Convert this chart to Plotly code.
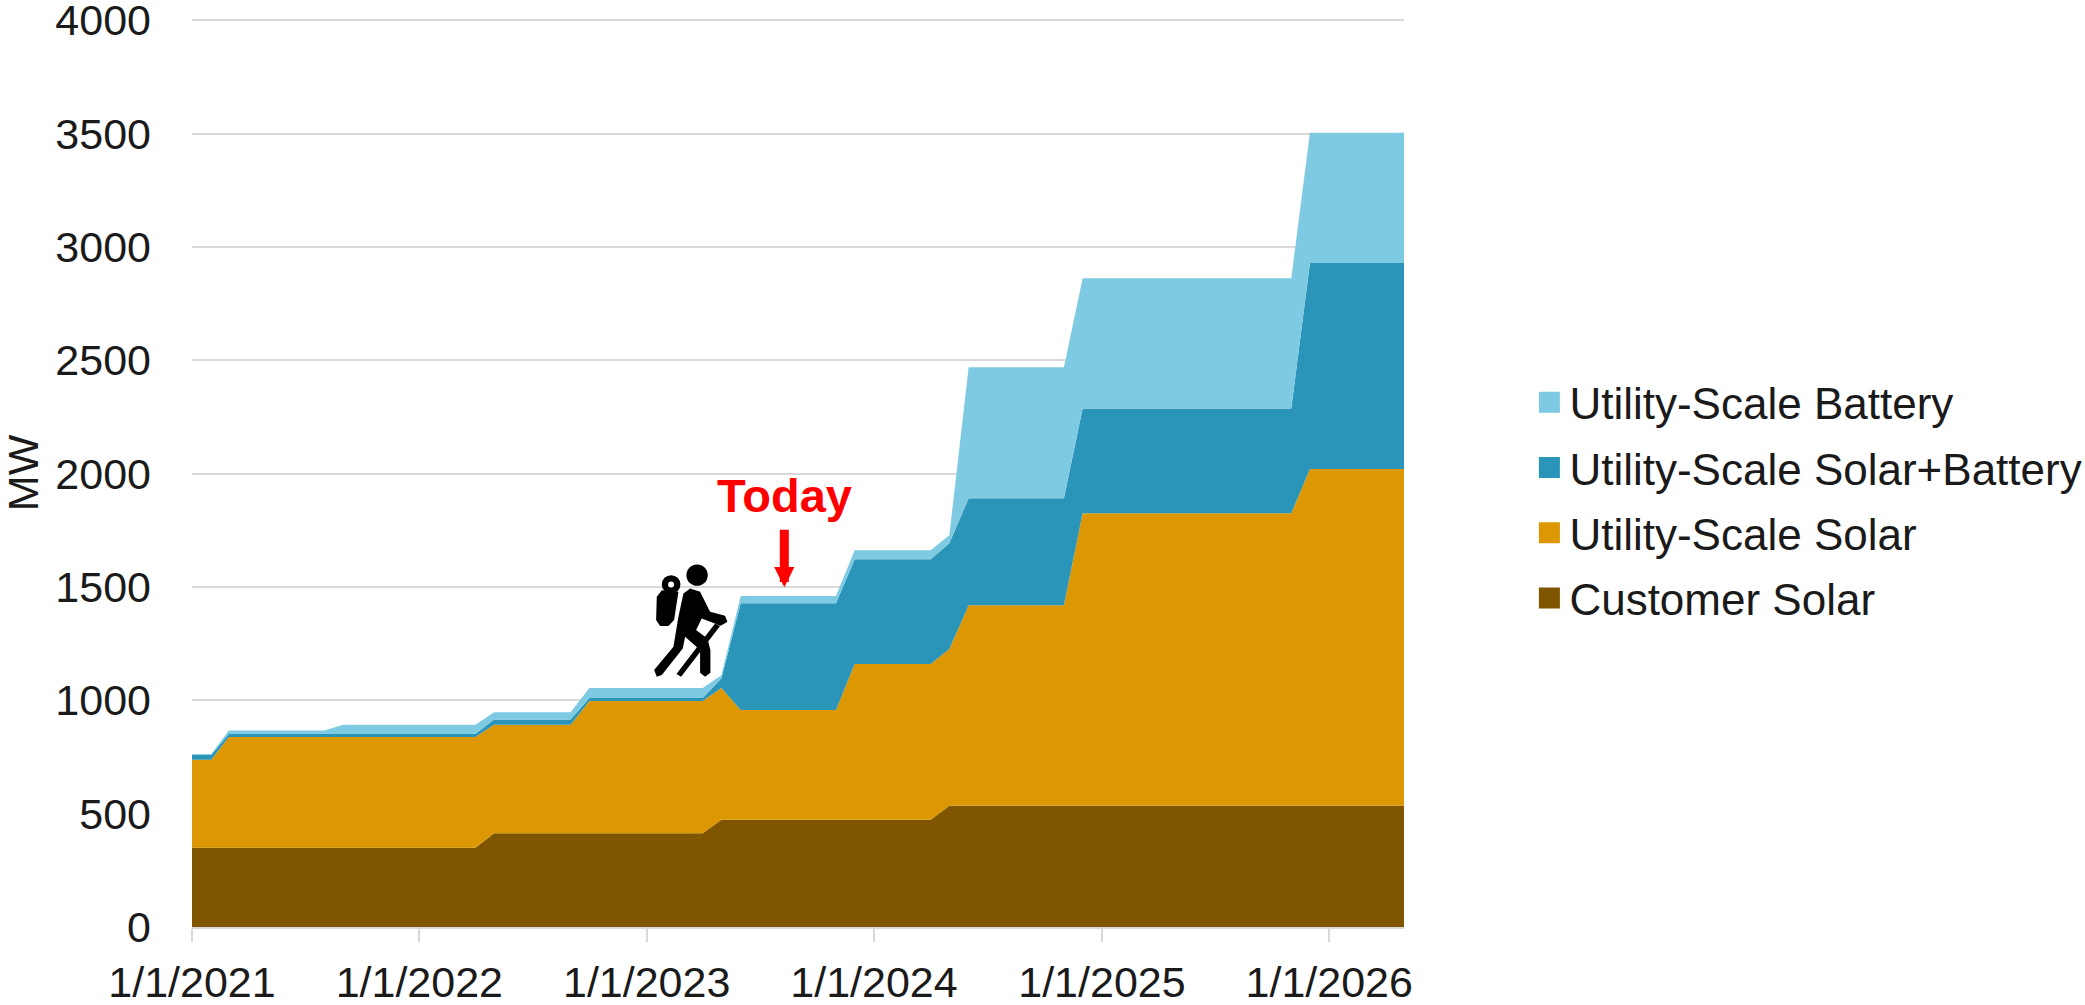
import plotly.graph_objects as go

W, H = 2085, 1005
L, R, T, B = 191.5, 1404.5, 18.64, 927

########################### DATA ###########################
months = [
    "2021-01-01", "2021-02-01", "2021-03-01", "2021-08-01", "2021-09-01", "2022-04-01",
    "2022-05-01", "2022-09-01", "2022-10-01", "2023-04-01", "2023-05-01", "2023-06-01",
    "2023-11-01", "2023-12-01", "2024-04-01", "2024-05-01", "2024-06-01", "2024-11-01",
    "2024-12-01", "2025-11-01", "2025-12-01", "2026-05-01",
]
customer_solar = [350, 350, 350, 350, 350, 350, 414, 414, 414, 414, 473,
                  473, 473, 473, 473, 535, 535, 535, 535, 535, 535, 535]
utility_solar = [388, 388, 488, 488, 488, 488, 478, 478, 583, 583, 581,
                 484, 484, 687, 687, 691, 885, 885, 1290, 1290, 1486, 1486]
utility_solar_battery = [22, 22, 13, 13, 13, 13, 23, 23, 13, 13, 44,
                         471, 471, 462, 462, 467, 472, 472, 463, 463, 909, 909]
utility_battery = [3, 3, 16, 16, 41, 41, 33, 33, 44, 44, 13,
                   32, 32, 40, 40, 35, 578, 578, 574, 574, 574, 574]

x_ticks = ["2021-01-01", "2022-01-01", "2023-01-01", "2024-01-01", "2025-01-01", "2026-01-01"]
x_labels = ["1/1/2021", "1/1/2022", "1/1/2023", "1/1/2024", "1/1/2025", "1/1/2026"]
y_ticks = [0, 500, 1000, 1500, 2000, 2500, 3000, 3500, 4000]

series = [
    ("Customer Solar", customer_solar, "#7f5500"),
    ("Utility-Scale Solar", utility_solar, "#dc9703"),
    ("Utility-Scale Solar+Battery", utility_solar_battery, "#2a95b9"),
    ("Utility-Scale Battery", utility_battery, "#7fcae3"),
]

FONT = "Liberation Sans"

fig = go.Figure()
for name, vals, col in series:
    fig.add_trace(go.Scatter(
        x=months, y=vals, name=name, stackgroup="one", mode="lines",
        line=dict(width=0, color=col), fillcolor=col, showlegend=False,
    ))

# legend swatches are square, area traces only give a thin strip
for name, vals, col in reversed(series):
    fig.add_trace(go.Scatter(
        x=[None], y=[None], name=name, mode="markers", legendgroup=name,
        marker=dict(symbol="square", size=16, color=col, line=dict(width=5, color=col)),
    ))


## hiker icon, outlined in image pixels
def px(a, b):
    return f"{(a - L) / (R - L):.5f},{(B - b) / (B - T):.5f}"


def icon(pts):
    p = [px(600 + a / 3, 450 + b / 3) for a, b in pts]
    return "M" + " L".join(p) + " Z"


def blob(cx, cy, r):
    a, b = px(600 + (cx - r) / 3, 450 + (cy - r) / 3).split(",")
    c, d = px(600 + (cx + r) / 3, 450 + (cy + r) / 3).split(",")
    return dict(type="circle", xref="paper", yref="paper", x0=float(a), y0=float(b),
                x1=float(c), y1=float(d), line_width=0)


body = [(250, 430), (270, 415), (300, 425), (330, 485), (375, 497), (382, 515), (362, 527),
        (305, 505), (288, 540), (322, 565), (331, 600), (331, 668), (315, 680), (300, 668),
        (300, 600), (255, 560), (248, 595), (185, 675), (170, 680), (162, 660), (220, 590),
        (235, 500)]
pack = [(170, 440), (185, 420), (235, 425), (222, 510), (205, 528), (180, 528), (168, 510)]
pole = [(345, 520), (360, 528), (243, 680), (229, 672)]

shapes = []
for pts in [body, pack, pole]:
    shapes.append(dict(type="path", xref="paper", yref="paper", path=icon(pts),
                       fillcolor="black", line_width=0))
shapes.append({**blob(291, 375, 32), "fillcolor": "black"})
shapes.append({**blob(213, 403, 28), "fillcolor": "black"})
shapes.append({**blob(213, 403, 9), "fillcolor": "white"})

fig.update_layout(
    width=W, height=H,
    margin=dict(l=L, r=W - R, t=T, b=H - B, autoexpand=False),
    paper_bgcolor="white", plot_bgcolor="white",
    font=dict(family=FONT, size=43, color="#1a1a1a"),
    showlegend=True,
    legend=dict(x=(1530 - L) / (R - L), y=(B - 367) / (B - T), xref="paper", yref="paper",
                xanchor="left", yanchor="top",
                traceorder="grouped", tracegroupgap=5, itemsizing="trace", itemwidth=30,
                font=dict(family=FONT, size=44, color="#1a1a1a"), bgcolor="rgba(0,0,0,0)"),
    shapes=shapes,
    annotations=[
        dict(x="2023-08-10", y=1902, xref="x", yref="y", text="<b>Today</b>", showarrow=False,
             font=dict(family=FONT, size=47, color="#ff0000")),
        dict(x="2023-08-10", y=1499, xref="x", yref="y", ax=0, ay=-59, text="", showarrow=True,
             arrowhead=2, arrowsize=0.45, arrowwidth=9, arrowcolor="#ff0000"),
        # axis title gets pushed back inside the figure, so placed by hand
        dict(x=(22.5 - L) / (R - L), y=0.5, xref="paper", yref="paper", text="MW", textangle=-90,
             xanchor="center", yanchor="middle", showarrow=False,
             font=dict(family=FONT, size=43, color="#1a1a1a")),
    ],
)
fig.update_xaxes(
    type="date", range=["2021-01-01", "2026-05-01"], tickvals=x_ticks, ticktext=x_labels,
    ticks="outside", ticklen=13, tickwidth=2, tickcolor="#d9d9d9", showgrid=False,
    showline=True, linecolor="#d9d9d9", linewidth=2, tickangle=0, ticklabelstandoff=3,
)
fig.update_yaxes(
    range=[0, 4006], tickvals=y_ticks, showgrid=True, gridcolor="#d9d9d9", gridwidth=2,
    zeroline=False, ticks="", showline=False, ticklabelstandoff=40, ticklabeloverflow="allow",
)

# page margin off so the long legend entry reaches the window edge like the reference
fig.write_html("out.html", config={"displayModeBar": False},
               post_script="document.body.style.margin='0';")
